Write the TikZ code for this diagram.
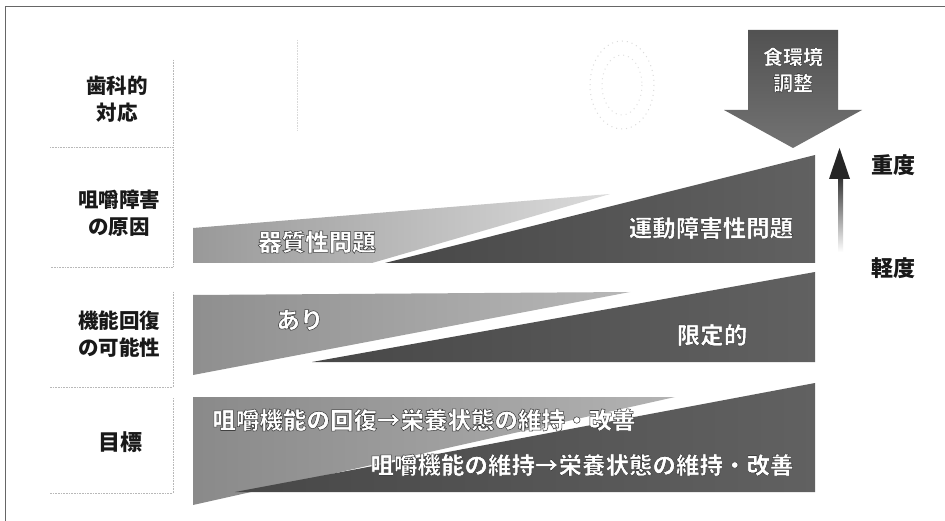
\documentclass[tikz,border=0pt]{standalone}
\usepackage{fontspec}
\newfontfamily\jp{Noto Sans CJK JP}
\newcommand{\outl}[1]{\special{pdf:literal direct 0.25 G 0.55 w 2 Tr}#1\special{pdf:literal direct 0 Tr}}
\tikzset{
  lbl/.style={font=\jp\bfseries\fontsize{20.5}{27}\selectfont, text=black!90, inner sep=0pt, align=center},
  sidelbl/.style={font=\jp\bfseries\fontsize{22}{22}\selectfont, text=black!90, inner sep=0pt},
  bandtxt/.style={font=\jp\bfseries\fontsize{23.5}{23.5}\selectfont, text=white, inner sep=0pt},
  arrtxt/.style={font=\jp\bfseries\fontsize{20}{26}\selectfont, text=white, inner sep=0pt, align=center},
  darkpart/.style={left color=black!72, right color=black!62},
  frameline/.style={draw=black!60, line width=0.8pt},
  faintbox/.style={draw=black!28, densely dotted, line width=0.6pt},
}
\begin{document}
\begin{tikzpicture}[x=1pt,y=-1pt]
\useasboundingbox (0,0) rectangle (945,521);
\fill[white] (0,0) rectangle (945,521);
% outer frame
\draw[frameline] (5,521) -- (5,6) -- (945,6);
% faint label boxes
\draw[faintbox] (173,60) -- (173,145);
\draw[faintbox] (50,147) -- (173,147) -- (173,267) -- (50,267);
\draw[faintbox] (173,292) -- (173,387) -- (50,387);
\draw[faintbox] (173,398) -- (173,493) -- (50,493);
% faint ghost marks in the top row
\draw[black!15, densely dotted, line width=0.6pt] (297,40) -- (297,130);
\draw[black!14, loosely dotted, line width=1pt] (622,85) ellipse [x radius=32, y radius=44];
\draw[black!12, loosely dotted, line width=1pt] (622,85) ellipse [x radius=20, y radius=30];
% band 1
\shade[left color=black!40, right color=black!14] (193,228) -- (610,194) -- (372,263) -- (193,263) -- cycle;
\shade[darkpart] (385,263) -- (815,155) -- (815,263) -- cycle;
% band 2
\shade[left color=black!44, right color=black!28] (193,295) -- (630,292) -- (193,375) -- cycle;
\shade[darkpart] (312,362) -- (815,272) -- (815,362) -- cycle;
% band 3
\shade[left color=black!46, right color=black!30] (193,397) -- (675,397) -- (193,505) -- cycle;
\shade[darkpart] (235,492) -- (815,383) -- (815,492) -- cycle;
% band texts
\node[bandtxt] (kishitsu) at (317,242) {\outl{器質性問題}};
\node[bandtxt] (undo) at (711,228) {\outl{運動障害性問題}};
\node[bandtxt] (ari) at (300,320) {\outl{あり}};
\node[bandtxt] (gentei) at (712,335) {\outl{限定的}};
\node[bandtxt] (goalA) at (424,420) {\outl{咀嚼機能の回復→栄養状態の維持・改善}};
\node[bandtxt] (goalB) at (582,465) {\outl{咀嚼機能の維持→栄養状態の維持・改善}};
% down arrow
\shade[top color=black!68, bottom color=black!55] (748,30) -- (838,30) -- (838,110) -- (862,110) -- (793,148) -- (724,110) -- (748,110) -- cycle;
\node[arrtxt] (arr) at (793,70) {\outl{食環境}\\\outl{調整}};
% severity arrow
\shade[top color=black!80, bottom color=white] (838,178) rectangle (843,252);
\fill[black!85] (829,179) -- (850,179) -- (839.5,148) -- cycle;
\node[sidelbl] (heavy) at (893,165) {重度};
\node[sidelbl] (light) at (893,268) {軽度};
% left labels
\node[lbl] (dental) at (117,99.5) {歯科的\\対応};
\node[lbl] (cause) at (119,213.5) {咀嚼障害\\の原因};
\node[lbl] (recov) at (119,334) {機能回復\\の可能性};
\node[lbl, font=\jp\bfseries\fontsize{22}{22}\selectfont] (goal) at (120,442) {目標};
\end{tikzpicture}
\end{document}
